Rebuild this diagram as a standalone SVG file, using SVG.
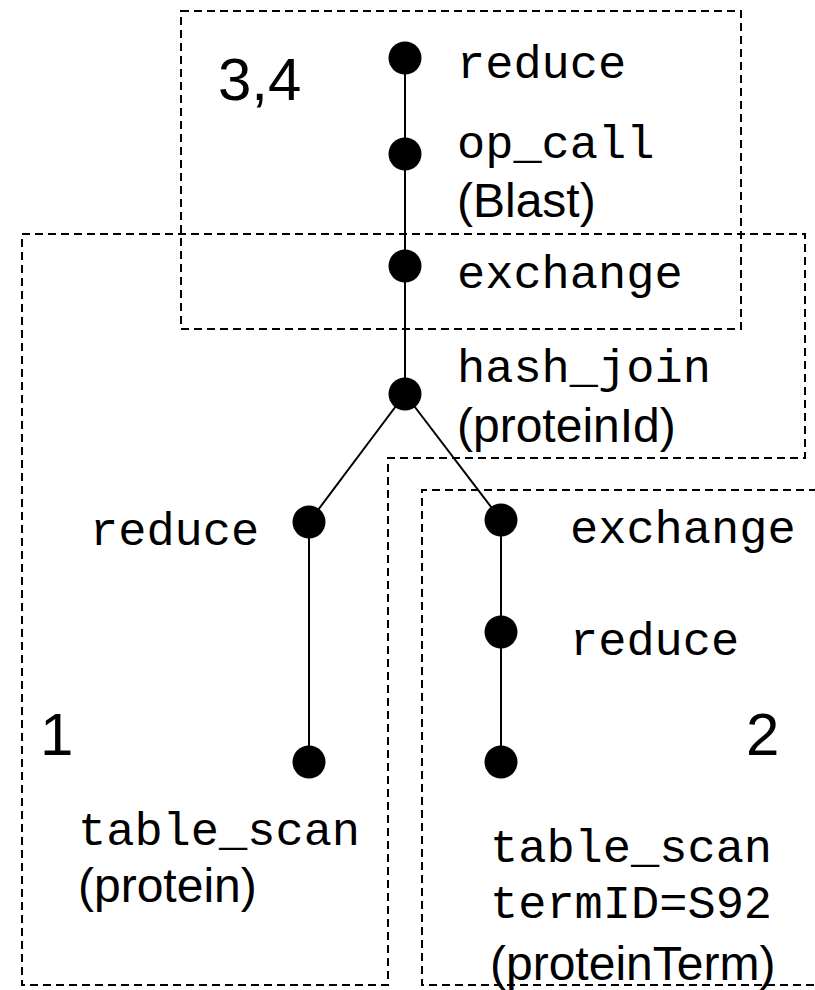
<svg xmlns="http://www.w3.org/2000/svg" width="815" height="990" viewBox="0 0 815 990">
<style>
.box{fill:none;stroke:#000;stroke-width:2;stroke-dasharray:8,5}
.edge{fill:none;stroke:#000;stroke-width:2}
.dot{fill:#000}
.mono{font-family:"Liberation Mono","Courier New",monospace;font-size:47px;fill:#000}
.sans{font-family:"Liberation Sans",Arial,sans-serif;font-size:48px;fill:#000}
.num{font-family:"Liberation Sans",Arial,sans-serif;font-size:60px;fill:#000}
</style>
<rect width="815" height="990" fill="#fff"/>
<g id="regions">
<rect id="region34" class="box" x="181" y="11" width="560" height="318"/>
<path id="region1" class="box" d="M22,234 H805 V458 H388 V985 H22 Z"/>
<path id="region2" class="box" d="M830,490 H422 V985 H830"/>
<text class="num" x="218" y="100">3,4</text>
<text class="num" x="40" y="755">1</text>
<text class="num" x="746" y="755">2</text>
</g>
<g id="connectors">
<line class="edge" x1="405" y1="58" x2="405" y2="394"/>
<line class="edge" x1="405" y1="394" x2="309" y2="522"/>
<line class="edge" x1="405" y1="394" x2="501" y2="520"/>
<line class="edge" x1="309" y1="522" x2="309" y2="762"/>
<line class="edge" x1="501" y1="520" x2="501" y2="762"/>
</g>
<g id="n_reduce_top"><circle class="dot" cx="405" cy="58" r="16.5"/><text class="mono" x="457" y="78">reduce</text></g>
<g id="n_opcall"><circle class="dot" cx="405" cy="154" r="16.5"/><text class="mono" x="457" y="158">op_call</text><text class="sans" x="457" y="217">(Blast)</text></g>
<g id="n_exchange_top"><circle class="dot" cx="405" cy="266" r="16.5"/><text class="mono" x="457" y="288">exchange</text></g>
<g id="n_hashjoin"><circle class="dot" cx="405" cy="394" r="16.5"/><text class="mono" x="457" y="382">hash_join</text><text class="sans" x="457" y="442">(proteinId)</text></g>
<g id="n_reduce_left"><circle class="dot" cx="309" cy="522" r="16.5"/><text class="mono" x="90" y="545">reduce</text></g>
<g id="n_scan_left"><circle class="dot" cx="309" cy="762" r="16.5"/><text class="mono" x="78" y="845">table_scan</text><text class="sans" x="78" y="902">(protein)</text></g>
<g id="n_exchange_right"><circle class="dot" cx="501" cy="520" r="16.5"/><text class="mono" x="570" y="543">exchange</text></g>
<g id="n_reduce_right"><circle class="dot" cx="501" cy="632" r="16.5"/><text class="mono" x="570" y="655">reduce</text></g>
<g id="n_scan_right"><circle class="dot" cx="501" cy="762" r="16.5"/><text class="mono" x="490" y="862">table_scan</text><text class="mono" x="490" y="918">termID=S92</text><text class="sans" x="490" y="980">(proteinTerm)</text></g>
</svg>
